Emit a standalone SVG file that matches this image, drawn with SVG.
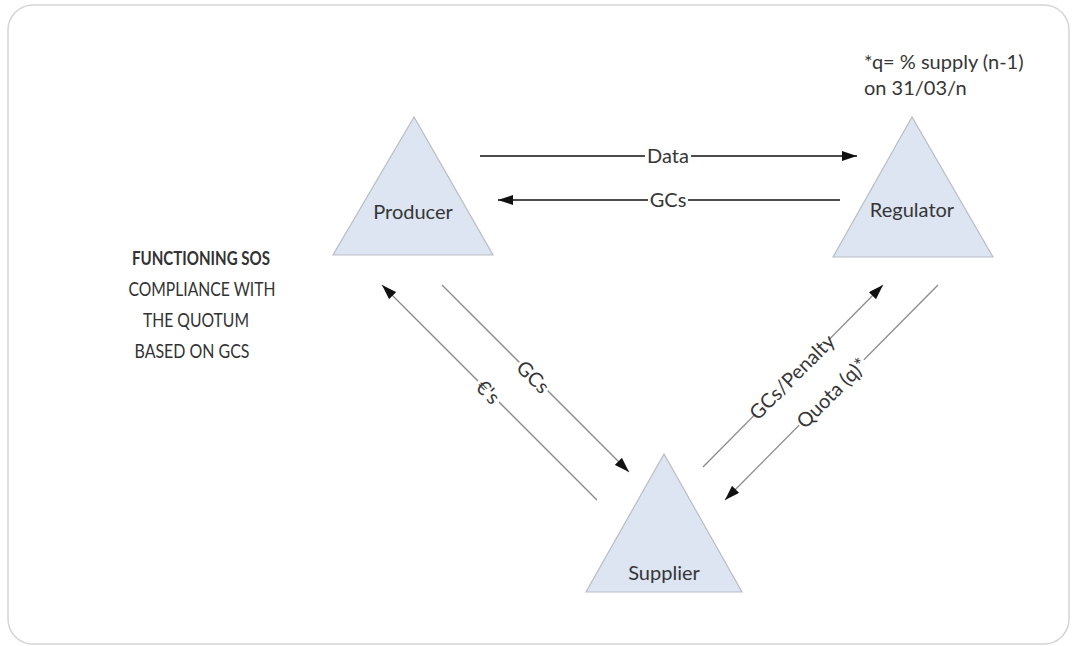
<svg xmlns="http://www.w3.org/2000/svg" width="1072" height="646" viewBox="0 0 1072 646">
  <style>
    .node { fill: #dce5f1; stroke: #b9bdc4; stroke-width: 1.2; }
    .lbl { font-family: Lato, "Open Sans", sans-serif; font-size: 20px; fill: #363636; text-anchor: middle; }
    .flow { stroke: #111; stroke-width: 1.5; fill: none; }
    .diag { stroke: #8a8a8a; stroke-width: 1.3; fill: none; }
    .bg { fill: #ffffff; }
    .title { font-family: Lato, "Open Sans", sans-serif; font-size: 19px; fill: #333; text-anchor: middle; }
  </style>
  <defs>
    <marker id="arrow" viewBox="0 0 15 10" refX="15" refY="5" markerWidth="15" markerHeight="10" markerUnits="userSpaceOnUse" orient="auto">
      <path d="M0,0 L15,5 L0,10 z" fill="#111"/>
    </marker>
  </defs>

  <!-- frame -->
  <rect x="8" y="5" width="1061" height="639" rx="25" ry="25" fill="#ffffff" stroke="#d4d4d4" stroke-width="1.5"/>

  <!-- caption, condensed to the column width -->
  <g id="caption">
    <text class="title" x="201" y="265" font-weight="bold" fill="#1e1e1e" textLength="138" lengthAdjust="spacingAndGlyphs">FUNCTIONING SOS</text>
    <text class="title" x="202" y="296" textLength="147" lengthAdjust="spacingAndGlyphs">COMPLIANCE WITH</text>
    <text class="title" x="196" y="327" textLength="106" lengthAdjust="spacingAndGlyphs">THE QUOTUM</text>
    <text class="title" x="192" y="358" textLength="115" lengthAdjust="spacingAndGlyphs">BASED ON GCS</text>
  </g>

  <!-- footnote -->
  <g id="note">
    <text class="lbl" x="864" y="69" style="text-anchor:start">*q= % supply (n-1)</text>
    <text class="lbl" x="864" y="95" style="text-anchor:start">on 31/03/n</text>
  </g>

  <!-- nodes -->
  <g id="producer">
    <polygon class="node" points="414,117 333,255 493,255"/>
    <text class="lbl" x="413" y="219">Producer</text>
  </g>
  <g id="regulator">
    <polygon class="node" points="912,117 833,257 993,257"/>
    <text class="lbl" x="912" y="217">Regulator</text>
  </g>
  <g id="supplier">
    <polygon class="node" points="664,454 586,592 742,592"/>
    <text class="lbl" x="664" y="580">Supplier</text>
  </g>

  <!-- connectors -->
  <g id="connectors">
    <line class="flow" x1="480" y1="156" x2="857" y2="156" marker-end="url(#arrow)"/>
    <line class="flow" x1="840" y1="200" x2="498" y2="200" marker-end="url(#arrow)"/>
    <line class="diag" x1="442" y1="285" x2="629" y2="472" marker-end="url(#arrow)"/>
    <line class="diag" x1="597" y1="500" x2="382" y2="285" marker-end="url(#arrow)"/>
    <line class="diag" x1="703" y1="467" x2="883" y2="285" marker-end="url(#arrow)"/>
    <line class="diag" x1="938" y1="285" x2="725" y2="500" marker-end="url(#arrow)"/>

    <!-- labels on the connectors -->
    <g transform="translate(668,156)">
      <rect class="bg" x="-23" y="-12" width="46" height="24"/>
      <text class="lbl" x="0" y="7">Data</text>
    </g>
    <g transform="translate(668,200)">
      <rect class="bg" x="-20" y="-12" width="40" height="24"/>
      <text class="lbl" x="0" y="7">GCs</text>
    </g>
    <g transform="translate(533,377) rotate(45)">
      <rect class="bg" x="-20" y="-12" width="40" height="24"/>
      <text class="lbl" x="0" y="7">GCs</text>
    </g>
    <g transform="translate(488,392) rotate(45)">
      <rect class="bg" x="-15" y="-12" width="30" height="24"/>
      <text class="lbl" x="0" y="7">€'s</text>
    </g>
    <g transform="translate(792,377) rotate(-45)">
      <rect class="bg" x="-52" y="-12" width="104" height="24"/>
      <text class="lbl" x="0" y="7">GCs/Penalty</text>
    </g>
    <g transform="translate(832,393) rotate(-45)">
      <rect class="bg" x="-46" y="-12" width="92" height="24"/>
      <text class="lbl" x="0" y="7">Quota (q)*</text>
    </g>
  </g>
</svg>
